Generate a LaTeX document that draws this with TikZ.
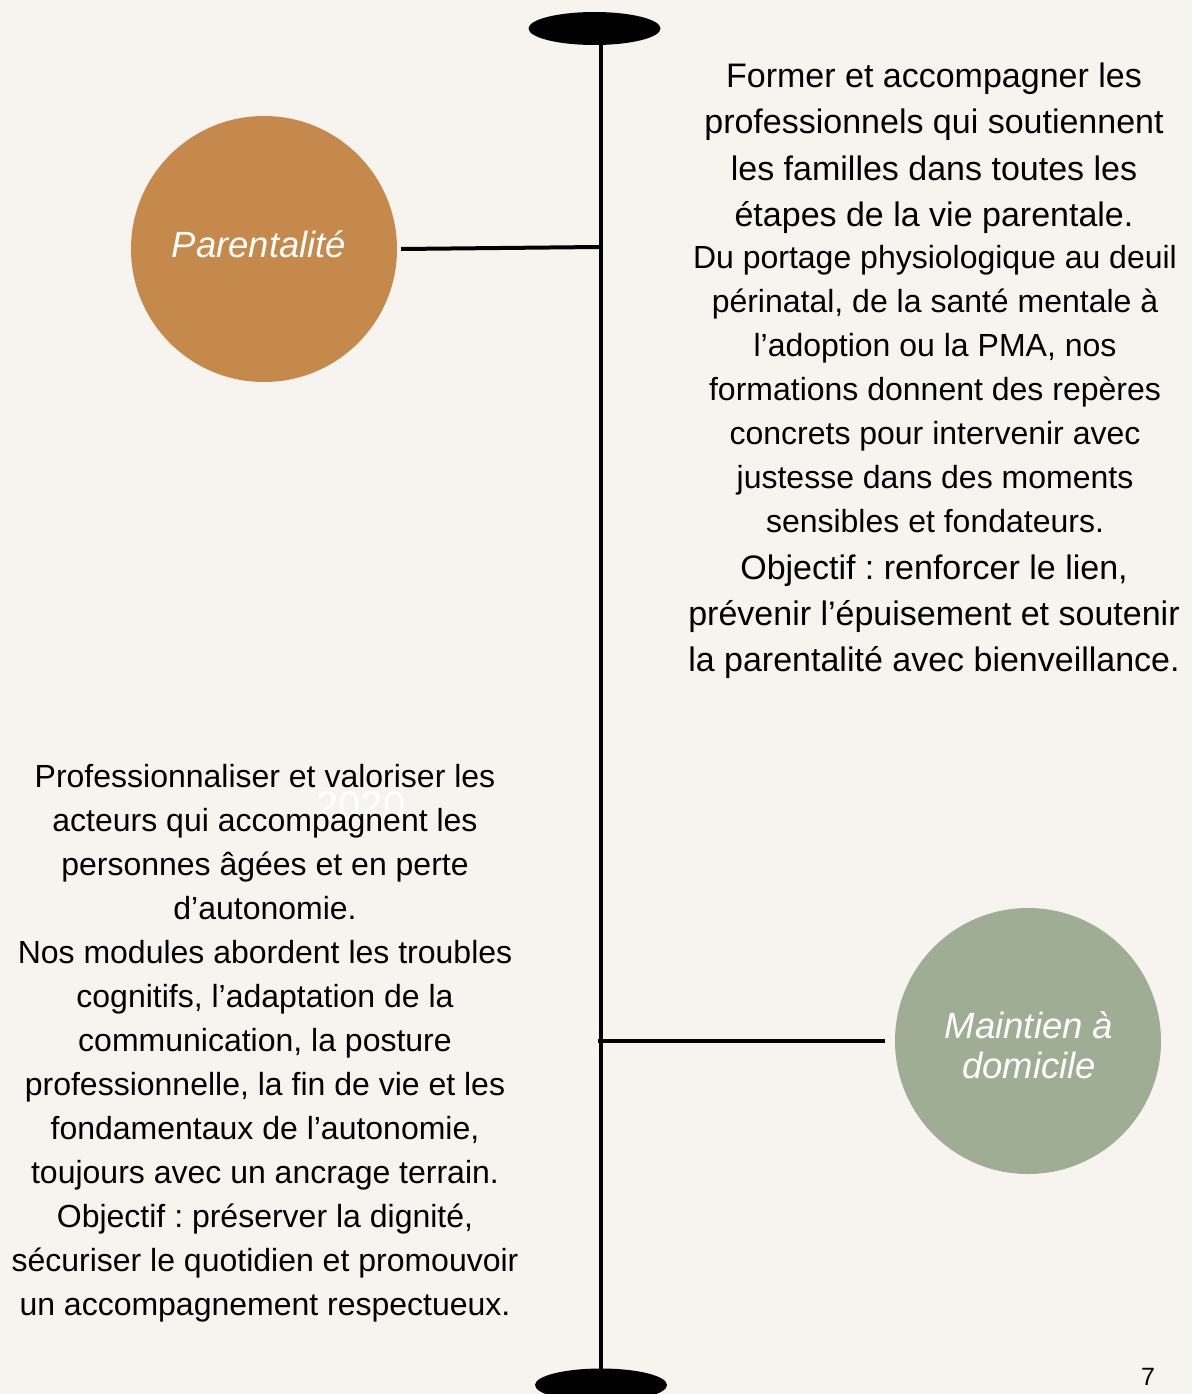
\documentclass[tikz,border=0pt]{standalone}
\usepackage{fontspec}
\setmainfont{Liberation Sans}
\usetikzlibrary{shapes.geometric}
\frenchspacing
\definecolor{bg}{HTML}{F7F4F0}
\definecolor{ochre}{HTML}{C4894B}
\definecolor{sage}{HTML}{A0AD95}
\tikzset{
  body/.style={anchor=base, inner sep=0pt, text=black, font=\fontsize{32}{38}\selectfont\frenchspacing},
  bodyL/.style={body, font=\fontsize{34}{40}\selectfont\frenchspacing},
  disc/.style={circle, minimum size=266, inner sep=0pt},
  endcap/.style={ellipse, fill=black, minimum width=132, minimum height=33, inner sep=0pt},
  lab/.style={anchor=base, inner sep=0pt, text=white, font=\fontsize{36.5}{40}\selectfont\itshape},
  spineline/.style={draw=black, line width=4pt},
}
\begin{document}
\begin{tikzpicture}[x=1pt, y=-1pt]
\fill[bg] (0,0) rectangle (1192,1394);
\useasboundingbox (0,0) rectangle (1192,1394);

% spine
\node[endcap] (capT) at (594.5,28.5) {};
\node[endcap] (capB) at (601,1385) {};
\coordinate (vtop) at (601,40);
\coordinate (vbot) at (601,1372);
\draw[spineline] (vtop) -- (vbot);

% circles
\node[disc, fill=ochre] (par) at (264,249) {};
\node[lab] (parl) at (259,257) {Parentalité};
\node[disc, fill=sage] (mad) at (1028,1041) {};
\node[lab] (madl1) at (1029,1038) {Maintien à};
\node[lab] (madl2) at (1029,1078) {domicile};

% branches
\coordinate (j1) at (599,247);
\coordinate (j2) at (598,1041);
\draw[spineline] ([xshift=4pt]par.east) -- (j1);
\draw[spineline] (j2) -- ([xshift=-10pt]mad.west);

% faint year
\node[anchor=base, inner sep=0pt, text=white, font=\fontsize{40}{44}\selectfont] (yr) at (361,819) {2020};

% right text
\foreach \t [count=\i from 0] in {Former et accompagner les, professionnels qui soutiennent, les familles dans toutes les, étapes de la vie parentale.}
  {\node[bodyL] (ra\i) at (934,88+46*\i) {\t};}
\foreach \t [count=\i from 0] in {Du portage physiologique au deuil, {périnatal, de la santé mentale à}, {l’adoption ou la PMA, nos}, formations donnent des repères, concrets pour intervenir avec, justesse dans des moments, sensibles et fondateurs.}
  {\node[body] (rb\i) at (935,268+44*\i) {\t};}
\foreach \t [count=\i from 0] in {{Objectif : renforcer le lien,}, prévenir l’épuisement et soutenir, la parentalité avec bienveillance.}
  {\node[bodyL] (rc\i) at (934,579+46*\i) {\t};}

% left text
\foreach \t [count=\i from 0] in {Professionnaliser et valoriser les, acteurs qui accompagnent les, personnes âgées et en perte, d’autonomie., Nos modules abordent les troubles, {cognitifs, l’adaptation de la}, {communication, la posture}, {professionnelle, la fin de vie et les}, {fondamentaux de l’autonomie,}, toujours avec un ancrage terrain., {Objectif : préserver la dignité,}, sécuriser le quotidien et promouvoir, un accompagnement respectueux.}
  {\node[body] (l\i) at (265,787+44*\i) {\t};}

% page number
\node[anchor=base, inner sep=0pt, font=\fontsize{25}{30}\selectfont] (pg) at (1148,1385) {7};
\end{tikzpicture}
\end{document}
